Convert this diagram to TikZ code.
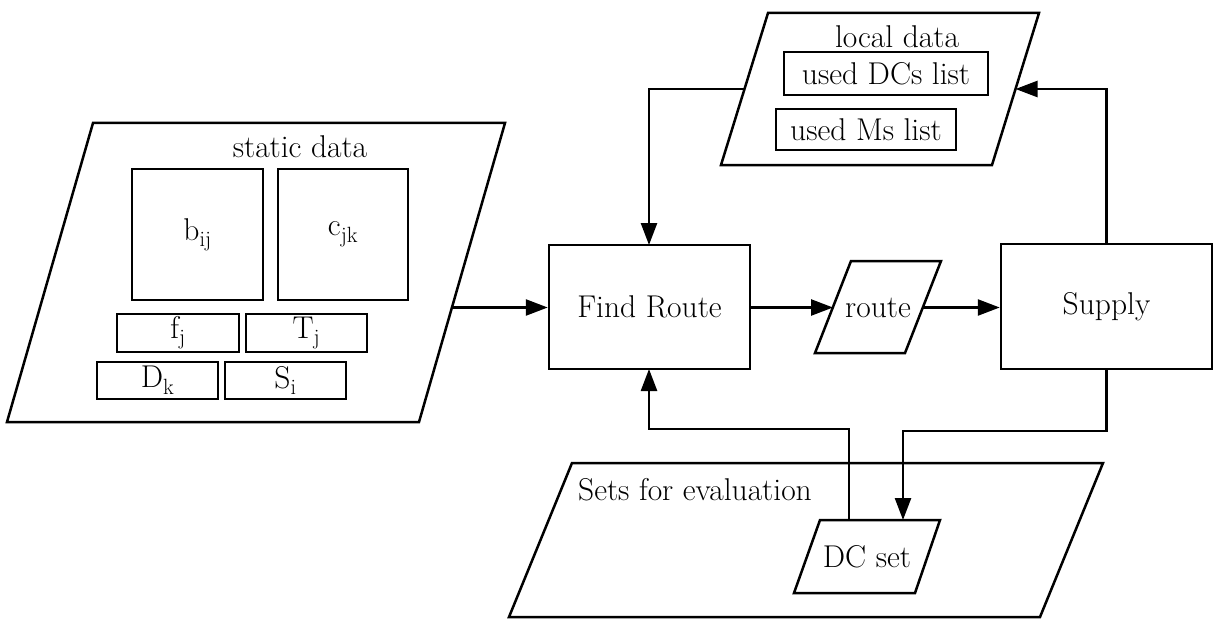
\documentclass[tikz,border=0pt]{standalone}
\usepackage{fontspec}
\setmainfont{Latin Modern Roman}
\usetikzlibrary{arrows.meta}
\begin{document}
\begin{tikzpicture}[x=1pt,y=-1pt,
  every node/.style={font=\fontsize{31.5}{36}\selectfont},
  box/.style={draw,line width=2.5pt,inner sep=0pt,minimum width=#1},
  frame/.style={draw,line width=2.5pt,line join=miter},
  conn/.style={line width=2.5pt,-{Triangle[length=22pt,width=16pt]}}]
\useasboundingbox (0,0) rectangle (1223,623);
% static data
\draw[frame] (93,123) -- (505,123) -- (419,422) -- (7,422) -- cycle;
\node (sdt) at (300,147) {static data};
\node[box=131pt,minimum height=131pt] (b) at (197.5,234.5) {b\textsubscript{ij}};
\node[box=130pt,minimum height=131pt] (c) at (343,234.5) {c\textsubscript{jk}};
\node[box=122pt,minimum height=38pt] (f) at (178,333) {f\textsubscript{j}};
\node[box=121pt,minimum height=38pt] (T) at (306.5,333) {T\textsubscript{j}};
\node[box=121pt,minimum height=37pt] (D) at (157.5,380.5) {D\textsubscript{k}};
\node[box=121pt,minimum height=37pt] (S) at (285.5,380.5) {S\textsubscript{i}};
\coordinate (sdout) at (452,307.5);
% local data
\draw[frame] (768,13) -- (1039,13) -- (992,165) -- (721,165) -- cycle;
\node (ldt) at (897,37) {local data};
\node[box=204pt,minimum height=43pt] (udc) at (886,73.5) {used DCs list};
\node[box=180pt,minimum height=41pt] (ums) at (866,129.5) {used Ms list};
\coordinate (ldl) at (744.5,89);
\coordinate (ldr) at (1015.5,89);
% main boxes
\node[box=201pt,minimum height=124pt] (fr) at (649.5,307) {Find Route};
\node[box=211pt,minimum height=125pt] (sup) at (1106.5,306.5) {Supply};
% route
\draw[frame] (851,261) -- (941,261) -- (905,353) -- (815,353) -- cycle;
\node (rt) at (878,307.5) {route};
\coordinate (rtl) at (833,307.5);
\coordinate (rtr) at (923,307.5);
% sets for evaluation
\draw[frame] (572,463) -- (1103,463) -- (1040,617) -- (509,617) -- cycle;
\node[anchor=west,inner sep=0pt] (sfe) at (578,490) {Sets for evaluation};
\draw[frame] (820,520) -- (940,520) -- (915,593) -- (794,593) -- cycle;
\node (dcs) at (867,557) {DC set};
\coordinate (dcin) at (903,520);
\coordinate (dcout) at (849,520);
% connectors
\draw[conn] (sdout) -- (fr.west |- sdout);
\draw[conn] (ldl) -- (649,89) -- (649,245);
\draw[conn] (fr.east |- rtl) -- (rtl);
\draw[conn] (rtr) -- (sup.west |- rtr);
\draw[conn] (sup.north) -- (sup.north |- ldr) -- (ldr);
\draw[conn] (sup.south) -- (1106.5,431) -- (903,431) -- (dcin);
\draw[conn] (dcout) -- (849,429) -- (649,429) -- (649,369);
\end{tikzpicture}
\end{document}
